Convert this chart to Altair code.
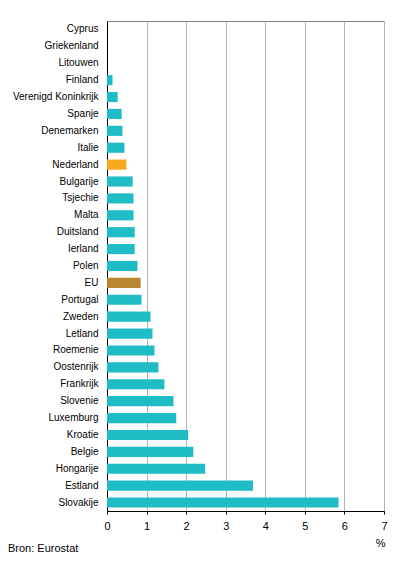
import altair as alt
import pandas as pd

countries = ["Cyprus", "Griekenland", "Litouwen", "Finland", "Verenigd Koninkrijk",
             "Spanje", "Denemarken", "Italie", "Nederland", "Bulgarije", "Tsjechie",
             "Malta", "Duitsland", "Ierland", "Polen", "EU", "Portugal", "Zweden",
             "Letland", "Roemenie", "Oostenrijk", "Frankrijk", "Slovenie", "Luxemburg",
             "Kroatie", "Belgie", "Hongarije", "Estland", "Slovakije"]
values = [0.0, 0.0, 0.0, 0.14, 0.27, 0.37, 0.39, 0.44, 0.49, 0.65, 0.67, 0.67, 0.70,
          0.70, 0.77, 0.85, 0.87, 1.10, 1.15, 1.20, 1.30, 1.45, 1.68, 1.75, 2.05, 2.18,
          2.48, 3.69, 5.85]
groups = ["land"] * len(countries)
groups[countries.index("Nederland")] = "NL"
groups[countries.index("EU")] = "EU"

group_domain = ["land", "NL", "EU"]
group_colors = ["#1fbcc5", "#f7a81d", "#b8862f"]
x_ticks = [0, 1, 2, 3, 4, 5, 6, 7]

df = pd.DataFrame({"land": countries, "waarde": values, "groep": groups})

FONT = "Liberation Sans"

bars = alt.Chart(df).mark_bar().encode(
    y=alt.Y("land:N", sort=countries,
            scale=alt.Scale(paddingInner=0.4, paddingOuter=0.2),
            axis=alt.Axis(title=None, ticks=False, tickSize=0, labelPadding=9,
                          labelFontSize=10, labelFont=FONT, labelColor="#000000",
                          labelLimit=200,
                          domainColor="#000000", domainWidth=1, grid=False)),
    x=alt.X("waarde:Q", scale=alt.Scale(domain=[0, 7], nice=False),
            axis=alt.Axis(values=x_ticks, title="%", titleX=278, titleY=35,
                          titleAlign="right", titleBaseline="alphabetic",
                          titleFontWeight="normal", titleFontSize=11, titleFont=FONT,
                          titleColor="#000000",
                          labelFontSize=11, labelFont=FONT, labelColor="#000000",
                          labelPadding=6, tickSize=3, tickColor="#000000",
                          domainColor="#000000", gridColor="#b4b4b4", gridWidth=1,
                          labelFlush=False)),
    color=alt.Color("groep:N", scale=alt.Scale(domain=group_domain, range=group_colors),
                    legend=None),
)

source = alt.Chart(pd.DataFrame({"t": ["Bron: Eurostat"]})).mark_text(
    align="left", baseline="alphabetic", fontSize=11, font=FONT, color="#000000"
).encode(text="t:N", x=alt.value(-99), y=alt.value(531))

chart = alt.layer(bars, source).properties(
    width=277, height=490,
    autosize=alt.AutoSizeParams(type="none"),
    padding={"left": 99, "top": 13, "right": 4, "bottom": 42},
).configure_view(stroke="#888888", strokeWidth=1)

chart.save("out.html", embed_options={"renderer": "svg", "actions": False})
